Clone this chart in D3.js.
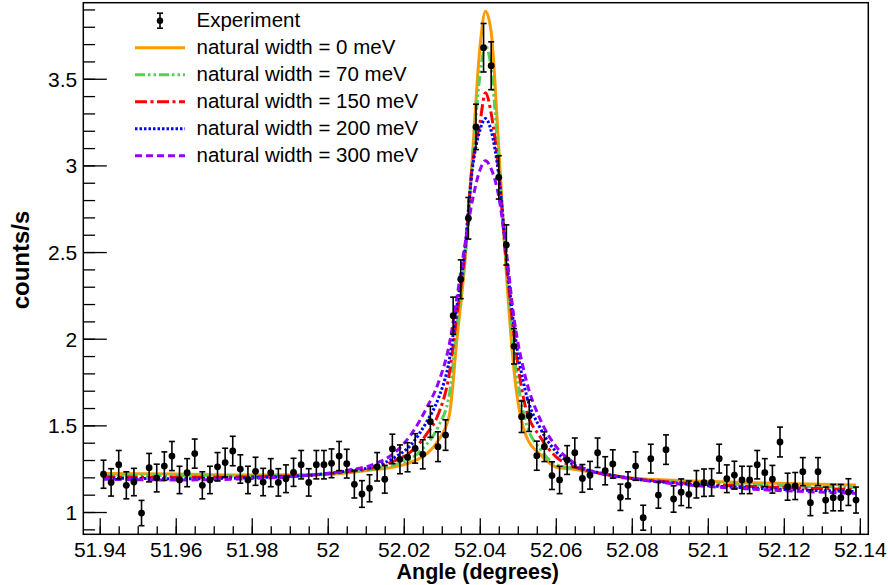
<!DOCTYPE html>
<html>
<head>
<meta charset="utf-8">
<script src="https://cdn.jsdelivr.net/npm/d3@7"></script>
<style>
  body { margin: 0; background: #fff; }
  svg { display: block; font-family: 'Liberation Sans', Arial, Helvetica, sans-serif; }
</style>
</head>
<body>
<svg id="chart"></svg>
<script>
// measured points (angle in degrees, counts/s, error)
const angles = [51.941, 51.943, 51.945, 51.947, 51.949, 51.951, 51.953, 51.955, 51.957, 51.959,
  51.961, 51.963, 51.965, 51.967, 51.969, 51.971, 51.973, 51.975, 51.977, 51.979,
  51.981, 51.983, 51.985, 51.987, 51.989, 51.991, 51.993, 51.995, 51.997, 51.999,
  52.001, 52.003, 52.005, 52.007, 52.009, 52.011, 52.013, 52.015, 52.017, 52.019,
  52.021, 52.023, 52.025, 52.027, 52.029, 52.031, 52.033, 52.035, 52.037, 52.039,
  52.041, 52.043, 52.045, 52.047, 52.049, 52.051, 52.053, 52.055, 52.057, 52.059,
  52.061, 52.063, 52.065, 52.067, 52.069, 52.071, 52.073, 52.075, 52.077, 52.079,
  52.081, 52.083, 52.085, 52.087, 52.089, 52.091, 52.093, 52.095, 52.097, 52.099,
  52.101, 52.103, 52.105, 52.107, 52.109, 52.111, 52.113, 52.115, 52.117, 52.119,
  52.121, 52.123, 52.125, 52.127, 52.129, 52.131, 52.133, 52.135, 52.137, 52.139]
const counts = [1.218, 1.171, 1.273, 1.154, 1.173, 0.994, 1.256, 1.196, 1.265, 1.323,
  1.185, 1.227, 1.337, 1.154, 1.185, 1.261, 1.285, 1.352, 1.248, 1.185,
  1.235, 1.173, 1.227, 1.171, 1.192, 1.229, 1.273, 1.171, 1.273, 1.273,
  1.281, 1.323, 1.279, 1.160, 1.104, 1.137, 1.261, 1.189, 1.364, 1.304,
  1.316, 1.367, 1.333, 1.521, 1.377, 1.444, 2.133, 2.343, 2.695, 3.222,
  3.679, 3.575, 2.931, 2.541, 1.956, 1.550, 1.556, 1.325, 1.377, 1.210,
  1.185, 1.300, 1.342, 1.194, 1.212, 1.342, 1.238, 1.277, 1.085, 1.154,
  1.265, 0.967, 1.308, 1.098, 1.360, 1.075, 1.114, 1.102, 1.160, 1.169,
  1.171, 1.308, 1.192, 1.213, 1.185, 1.185, 1.273, 1.227, 1.189, 1.404,
  1.146, 1.150, 1.233, 1.054, 1.233, 1.069, 1.083, 1.083, 1.115, 1.069]
const errors = [0.081, 0.079, 0.082, 0.078, 0.079, 0.073, 0.082, 0.080, 0.082, 0.084,
  0.079, 0.081, 0.084, 0.078, 0.079, 0.082, 0.083, 0.085, 0.082, 0.079,
  0.081, 0.079, 0.081, 0.079, 0.080, 0.081, 0.082, 0.079, 0.082, 0.082,
  0.083, 0.084, 0.083, 0.079, 0.077, 0.078, 0.082, 0.080, 0.085, 0.083,
  0.084, 0.085, 0.084, 0.090, 0.086, 0.088, 0.107, 0.112, 0.120, 0.131,
  0.140, 0.138, 0.125, 0.116, 0.102, 0.091, 0.091, 0.084, 0.086, 0.080,
  0.079, 0.083, 0.085, 0.080, 0.080, 0.085, 0.081, 0.082, 0.076, 0.078,
  0.082, 0.072, 0.083, 0.076, 0.085, 0.076, 0.077, 0.077, 0.079, 0.079,
  0.079, 0.083, 0.080, 0.080, 0.079, 0.079, 0.082, 0.081, 0.080, 0.086,
  0.078, 0.078, 0.081, 0.075, 0.081, 0.075, 0.076, 0.076, 0.077, 0.075]

// simulated profiles, read off at these angles
const curveAngles = [51.941, 51.96, 51.98, 51.995, 52.005, 52.012, 52.018, 52.022, 52.026, 52.029,
  52.032, 52.034, 52.036, 52.038, 52.040, 52.0415, 52.043, 52.045, 52.047, 52.049,
  52.052, 52.056, 52.060, 52.065, 52.072, 52.08, 52.095, 52.115, 52.139]
const width0 = [1.223, 1.219, 1.213, 1.215, 1.225, 1.244, 1.262, 1.288, 1.335, 1.41,
  1.56, 2.00, 2.42, 3.03, 3.67, 3.89, 3.77, 3.10, 2.38, 1.82,
  1.45, 1.33, 1.26, 1.245, 1.222, 1.196, 1.18, 1.168, 1.156]
const width70 = [1.213, 1.210, 1.208, 1.213, 1.228, 1.248, 1.275, 1.31, 1.39, 1.49,
  1.68, 2.08, 2.44, 3.01, 3.51, 3.69, 3.56, 3.02, 2.40, 1.92,
  1.53, 1.36, 1.275, 1.25, 1.222, 1.195, 1.172, 1.155, 1.142]
const width150 = [1.203, 1.200, 1.203, 1.212, 1.232, 1.255, 1.30, 1.35, 1.45, 1.56,
  1.80, 2.14, 2.47, 2.99, 3.24, 3.42, 3.30, 2.96, 2.44, 2.02,
  1.61, 1.43, 1.32, 1.26, 1.222, 1.194, 1.165, 1.145, 1.130]
const width200 = [1.196, 1.192, 1.198, 1.212, 1.236, 1.262, 1.32, 1.39, 1.52, 1.65,
  1.88, 2.19, 2.50, 2.97, 3.20, 3.27, 3.20, 2.94, 2.48, 2.07,
  1.70, 1.48, 1.35, 1.27, 1.224, 1.193, 1.16, 1.135, 1.118]
const width300 = [1.189, 1.185, 1.193, 1.212, 1.24, 1.275, 1.35, 1.45, 1.60, 1.74,
  1.97, 2.24, 2.53, 2.79, 2.97, 3.027, 2.98, 2.82, 2.50, 2.12,
  1.78, 1.53, 1.38, 1.281, 1.22, 1.192, 1.156, 1.128, 1.108]

const legendLabels = ['Experiment', 'natural width = 0 meV', 'natural width = 70 meV',
  'natural width = 150 meV', 'natural width = 200 meV', 'natural width = 300 meV']
const xTickValues = [51.94, 51.96, 51.98, 52, 52.02, 52.04, 52.06, 52.08, 52.1, 52.12, 52.14]
const xTickLabels = ['51.94', '51.96', '51.98', '52', '52.02', '52.04', '52.06', '52.08', '52.1', '52.12', '52.14']
const yTickValues = [1, 1.5, 2, 2.5, 3, 3.5]
const yTickLabels = ['1', '1.5', '2', '2.5', '3', '3.5']

const w = 888
const h = 585
const frame = { left: 83.3, right: 868.3, top: 2.7, bottom: 534.3 }

const svg = d3.select('#chart').attr('width', w).attr('height', h)
svg.append('rect').attr('width', w).attr('height', h).attr('fill', '#fff')

const xScale = d3.scaleLinear()
                 .domain([51.93568, 52.14223])
                 .range([frame.left, frame.right])
const yScale = d3.scaleLinear()
                 .domain([0.8714, 3.9389])
                 .range([frame.bottom, frame.top])

// axes: ticks point inwards, like ROOT
const xMinor = d3.range(0, 41).map(i => 51.94 + i * 0.005)
const yMinor = d3.range(0, 31).map(i => 0.9 + i * 0.1)

svg.append('g')
   .attr('transform', 'translate(0,' + frame.bottom + ')')
   .call(d3.axisBottom(xScale).tickValues(xMinor).tickSize(-8).tickFormat(''))
svg.append('g')
   .attr('class', 'x-major')
   .attr('transform', 'translate(0,' + frame.bottom + ')')
   .call(d3.axisBottom(xScale).tickValues(xTickValues).tickSize(-16).tickPadding(6)
           .tickFormat((d, i) => xTickLabels[i]))
svg.append('g')
   .attr('transform', 'translate(' + frame.left + ',0)')
   .call(d3.axisLeft(yScale).tickValues(yMinor).tickSize(-11.8).tickFormat(''))
svg.append('g')
   .attr('class', 'y-major')
   .attr('transform', 'translate(' + frame.left + ',0)')
   .call(d3.axisLeft(yScale).tickValues(yTickValues).tickSize(-23.5).tickPadding(6)
           .tickFormat((d, i) => yTickLabels[i]))

svg.selectAll('.domain').remove()
svg.selectAll('.tick line').attr('stroke', '#000').attr('stroke-width', 1.3)
svg.selectAll('.tick text').attr('fill', '#000').attr('font-size', 21)
   .attr('font-family', "'Liberation Sans', Arial, sans-serif")
svg.selectAll('.x-major .tick text').attr('y', 0).attr('dy', 22.5)
svg.selectAll('.y-major .tick text').attr('x', -6).attr('dy', '0.36em')

// curves
const series = [
  { values: width0, color: '#ff9900', dash: null },
  { values: width70, color: '#55cf55', dash: '10 3 2.5 3 2.5 3' },
  { values: width150, color: '#ff0000', dash: '12 3.5 3 3.5' },
  { values: width200, color: '#0000ff', dash: '2.5 2' },
  { values: width300, color: '#9400ff', dash: '7 4' }
]
const line = d3.line()
               .x(d => xScale(d[0]))
               .y(d => yScale(d[1]))
               .curve(d3.curveMonotoneX)

const plot = svg.append('g')
plot.selectAll('path.model')
    .data(series)
    .enter()
    .append('path')
      .attr('class', 'model')
      .attr('d', s => line(curveAngles.map((a, i) => [a, s.values[i]])))
      .attr('fill', 'none')
      .attr('stroke', s => s.color)
      .attr('stroke-width', 3)
      .attr('stroke-dasharray', s => s.dash)

// data with error bars
const pts = angles.map((a, i) => ({ a: a, c: counts[i], e: errors[i] }))
const dots = plot.selectAll('g.pt')
                 .data(pts)
                 .enter()
                 .append('g')
                   .attr('class', 'pt')
dots.append('line')
      .attr('x1', d => xScale(d.a)).attr('x2', d => xScale(d.a))
      .attr('y1', d => yScale(d.c - d.e)).attr('y2', d => yScale(d.c + d.e))
dots.append('line')
      .attr('x1', d => xScale(d.a) - 3).attr('x2', d => xScale(d.a) + 3)
      .attr('y1', d => yScale(d.c + d.e)).attr('y2', d => yScale(d.c + d.e))
dots.append('line')
      .attr('x1', d => xScale(d.a) - 3).attr('x2', d => xScale(d.a) + 3)
      .attr('y1', d => yScale(d.c - d.e)).attr('y2', d => yScale(d.c - d.e))
dots.selectAll('line').attr('stroke', '#000').attr('stroke-width', 1.6)
dots.append('circle')
      .attr('cx', d => xScale(d.a))
      .attr('cy', d => yScale(d.c))
      .attr('r', 3.4)
      .attr('fill', '#000')

// frame
svg.append('rect')
   .attr('x', frame.left).attr('y', frame.top)
   .attr('width', frame.right - frame.left).attr('height', frame.bottom - frame.top)
   .attr('fill', 'none').attr('stroke', '#000').attr('stroke-width', 1.5)

// legend
const legend = svg.append('g')
const rowY = i => 20.7 + i * 27
legendLabels.forEach((label, i) => {
  const y = rowY(i)
  if (i === 0) {
    legend.append('line').attr('x1', 160).attr('x2', 160).attr('y1', y - 7.5).attr('y2', y + 7.5)
    legend.append('line').attr('x1', 157).attr('x2', 163).attr('y1', y - 7.5).attr('y2', y - 7.5)
    legend.append('line').attr('x1', 157).attr('x2', 163).attr('y1', y + 7.5).attr('y2', y + 7.5)
    legend.selectAll('line').attr('stroke', '#000').attr('stroke-width', 1.6)
    legend.append('circle').attr('cx', 160).attr('cy', y).attr('r', 3.2).attr('fill', '#000')
  } else {
    const s = series[i - 1]
    legend.append('line')
          .attr('x1', 135).attr('x2', 185).attr('y1', y).attr('y2', y)
          .attr('stroke', s.color).attr('stroke-width', 3)
          .attr('stroke-dasharray', s.dash)
  }
  legend.append('text')
        .attr('x', 196.5).attr('y', y + 6.5)
        .attr('font-size', 20.5)
        .attr('fill', '#000')
        .text(label)
})

// axis titles
svg.append('text')
   .attr('x', (frame.left + frame.right) / 2 + 2).attr('y', 579)
   .attr('text-anchor', 'middle')
   .attr('font-size', 21.5).attr('font-weight', 'bold')
   .text('Angle (degrees)')
svg.append('text')
   .attr('transform', 'translate(29,' + 260 + ') rotate(-90)')
   .attr('text-anchor', 'middle')
   .attr('font-size', 24).attr('font-weight', 'bold')
   .text('counts/s')
</script>
</body>
</html>
